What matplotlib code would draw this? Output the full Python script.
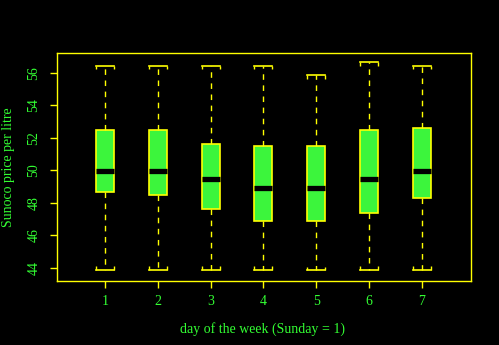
import matplotlib
matplotlib.use("Agg")
import matplotlib.pyplot as plt
import numpy as np

days = [1, 2, 3, 4, 5, 6, 7]
whislo = [43.9, 43.9, 43.9, 43.9, 43.85, 43.9, 43.9]
q1 = [48.7, 48.5, 47.6, 46.9, 46.9, 47.4, 48.3]
med = [49.95, 49.95, 49.5, 48.95, 48.95, 49.5, 49.95]
q3 = [52.5, 52.5, 51.6, 51.5, 51.5, 52.5, 52.6]
whishi = [56.45, 56.45, 56.45, 56.45, 55.85, 56.65, 56.45]
yticks = [44, 46, 48, 50, 52, 54, 56]

GREEN = "#33ff33"
YELLOW = "#ffff00"
FONT = ["Liberation Serif", "DejaVu Serif"]
W = 0.34

fig = plt.figure(figsize=(4.99, 3.45), dpi=100, facecolor="black")
ax = fig.add_axes([57/499, 1-281/345, (471-57)/499, (281-53)/345], facecolor="black")

stats = [dict(whislo=a, q1=b, med=c, q3=d, whishi=e, label=str(p))
         for a, b, c, d, e, p in zip(whislo, q1, med, q3, whishi, days)]
ax.bxp(stats, positions=days, widths=W, showfliers=False, patch_artist=True,
       boxprops=dict(facecolor="#3cf53c", edgecolor=YELLOW, linewidth=1.2),
       medianprops=dict(color="black", linewidth=3.8, solid_capstyle="butt"),
       whiskerprops=dict(color=YELLOW, linestyle=(0, (4, 4)), linewidth=1.0),
       capprops=dict(color=YELLOW, linewidth=1.2), capwidths=W)

# bracket ends on caps
d = np.array(days, dtype=float)
for xs in (d - W / 2, d + W / 2):
    ax.vlines(xs, np.array(whishi) - 0.22, whishi, color=YELLOW, linewidth=1.0)
    ax.vlines(xs, whislo, np.array(whislo) + 0.22, color=YELLOW, linewidth=1.0)

ax.set_xlim(0.09, 7.93)
ax.set_ylim(43.2, 57.23)
ax.set_yticks(yticks)
ax.set_yticklabels([str(v) for v in yticks], rotation=90, va="center")
ax.set_xticks(days)
ax.set_xticklabels([str(v) for v in days])

for s in ax.spines.values():
    s.set_color(YELLOW)
    s.set_linewidth(1.0)
ax.tick_params(colors=YELLOW, labelcolor=GREEN, length=5, width=1.0, labelsize=10)
ax.tick_params(axis="y", pad=7)
ax.tick_params(axis="x", pad=5)
for lab in ax.get_xticklabels() + ax.get_yticklabels():
    lab.set_family(FONT)

fig.text(263/499, 1-329/345, "day of the week (Sunday = 1)", color=GREEN,
         family=FONT, fontsize=10, ha="center", va="center")
fig.text(9/499, 1-167/345, "Sunoco price per litre", color=GREEN,
         family=FONT, fontsize=10, ha="center", va="center", rotation=90)

fig.savefig("out.png", dpi=100, facecolor="black")
